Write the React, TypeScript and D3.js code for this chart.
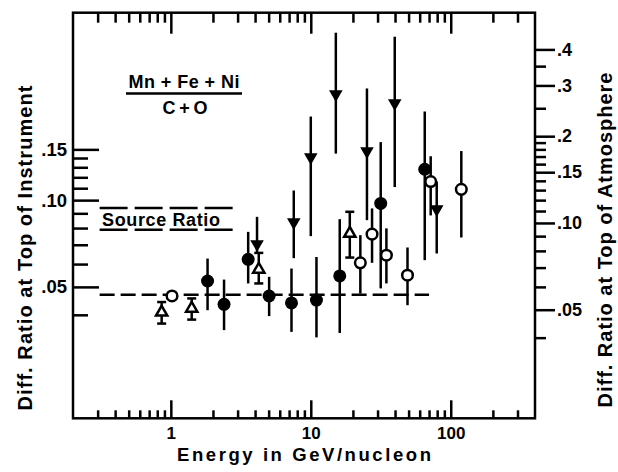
import React, { useEffect, useRef } from "react";
import * as d3 from "d3";

// energies (GeV/nucleon) and ratios
const filledE = [1.83, 2.4, 3.57, 5.04, 7.28, 10.98, 16.1, 31.6, 65.2];
const filledV = [0.0524, 0.0435, 0.0623, 0.0465, 0.044, 0.045, 0.0546, 0.0974, 0.128];
const filledLo = [0.0415, 0.0354, 0.0514, 0.0396, 0.0349, 0.0334, 0.0346, 0.0494, 0.0619];
const filledHi = [0.0627, 0.053, 0.0776, 0.0542, 0.0579, 0.0635, 0.0859, 0.159, 0.203];

const openE = [1.02, 22.6, 27.4, 34.7, 49.1, 71.9, 119];
const openV = [0.0465, 0.0606, 0.0762, 0.0644, 0.0549, 0.116, 0.109];
const openLo = [null, 0.0474, 0.0606, 0.0514, 0.0432, 0.0885, 0.0742];
const openHi = [null, 0.0756, 0.0936, 0.0798, 0.0685, 0.142, 0.148];

const triE = [0.86, 1.41, 4.25, 19.0];
const triV = [0.0408, 0.0421, 0.0575, 0.0766];
const triLo = [0.0373, 0.0385, 0.0514, 0.0632];
const triHi = [0.0443, 0.0456, 0.0656, 0.0911];

const downE = [4.13, 7.56, 10.0, 15.1, 25.2, 39.8, 79.4];
const downV = [0.0704, 0.0839, 0.141, 0.233, 0.148, 0.217, 0.0931];
const downLo = [0.066, 0.0629, 0.075, 0.145, 0.0852, 0.111, 0.0653];
const downHi = [0.0875, 0.108, 0.195, 0.381, 0.244, 0.369, 0.116];

// bracket joining the open circle and the down triangle near 75 GeV
const bracketE = [71.9, 79.4];
const bracketV = 0.116;

// source ratio band and the low energy level
const sourceE = [0.31, 3.0];
const sourceBand = [0.079, 0.094];
const levelE = [0.31, 70];
const levelV = 0.047;

// ticks
const xMajor = [1, 10, 100];
const xMinor = [0.3, 0.4, 0.5, 0.6, 0.7, 0.8, 0.9, 2, 3, 4, 5, 6, 7, 8, 9, 20, 30, 40, 50, 60, 70, 80, 90, 200, 300];
const leftMajor = [0.05, 0.1, 0.15];
const leftLabels = [".05", ".10", ".15"];
const leftMinor = [0.04, 0.06, 0.07, 0.08, 0.09, 0.11, 0.12, 0.13, 0.14];
const rightMajor = [0.05, 0.1, 0.15, 0.2, 0.3, 0.4];
const rightLabels = [".05", ".10", ".15", ".2", ".3", ".4"];
const rightMinor = [0.04, 0.06, 0.07, 0.08, 0.09, 0.11, 0.12, 0.13, 0.14, 0.16, 0.17, 0.18, 0.19, 0.25, 0.35];
const atmosFactor = 1.2;

const FONT = "'Liberation Sans', Arial, sans-serif";

const App = () => {
  const ref = useRef(null);
  const width = 618;
  const height = 472;
  const box = { left: 73, right: 535, top: 12.7, bottom: 418.3 };

  useEffect(() => {
    drawGraph();
  }, []);

  const drawGraph = () => {
    const svg = d3.select(ref.current);
    svg.selectAll("*").remove();

    const x = d3.scaleLog().domain([0.2, 400]).range([box.left, box.right]);
    const y = d3.scaleLog().domain([0.0175, 0.447]).range([box.bottom, box.top]);
    const yR = d3.scaleLog()
      .domain([0.0175 * atmosFactor, 0.447 * atmosFactor])
      .range([box.bottom, box.top]);

    const blank = () => "";
    const styleAxis = (size) => (g) => {
      g.select(".domain").remove();
      g.selectAll("line").attr("stroke", "#000").attr("stroke-width", 2.5);
      g.selectAll("text")
        .attr("fill", "#000")
        .attr("font-family", FONT)
        .attr("font-weight", 700)
        .attr("font-size", size);
    };

    // bottom axis, ticks point inward
    svg.append("g")
      .attr("transform", `translate(0,${box.bottom})`)
      .call(d3.axisTop(x).tickValues(xMinor).tickSize(8).tickFormat(blank))
      .call(styleAxis(17));
    svg.append("g")
      .attr("transform", `translate(0,${box.bottom})`)
      .call(d3.axisBottom(x).tickValues(xMajor).tickSizeInner(-18).tickSizeOuter(0)
        .tickPadding(9).tickFormat(d3.format("d")))
      .call(styleAxis(17));

    // top axis
    svg.append("g")
      .attr("transform", `translate(0,${box.top})`)
      .call(d3.axisBottom(x).tickValues(xMinor).tickSize(10).tickFormat(blank))
      .call(styleAxis(17));
    svg.append("g")
      .attr("transform", `translate(0,${box.top})`)
      .call(d3.axisBottom(x).tickValues(xMajor).tickSize(21).tickFormat(blank))
      .call(styleAxis(17));

    // left axis (top of instrument), inward ticks
    svg.append("g")
      .attr("transform", `translate(${box.left},0)`)
      .call(d3.axisRight(y).tickValues(leftMinor).tickSize(15).tickFormat(blank))
      .call(styleAxis(18.5));
    svg.append("g")
      .attr("transform", `translate(${box.left},0)`)
      .call(d3.axisLeft(y).tickValues(leftMajor).tickSizeInner(-26).tickSizeOuter(0)
        .tickPadding(6).tickFormat((d, i) => leftLabels[i]))
      .call(styleAxis(18.5));

    // right axis (top of atmosphere), outward ticks
    svg.append("g")
      .attr("transform", `translate(${box.right},0)`)
      .call(d3.axisRight(yR).tickValues(rightMinor).tickSize(11).tickFormat(blank))
      .call(styleAxis(18));
    svg.append("g")
      .attr("transform", `translate(${box.right},0)`)
      .call(d3.axisRight(yR).tickValues(rightMajor).tickSize(20).tickPadding(2)
        .tickFormat((d, i) => rightLabels[i]))
      .call(styleAxis(18));

    // frame
    svg.append("rect")
      .attr("x", box.left).attr("y", box.top)
      .attr("width", box.right - box.left).attr("height", box.bottom - box.top)
      .attr("fill", "none").attr("stroke", "#000").attr("stroke-width", 2.5);

    // dashed reference lines
    sourceBand.forEach(v => {
      svg.append("line")
        .attr("x1", x(sourceE[0])).attr("x2", x(sourceE[1]))
        .attr("y1", y(v)).attr("y2", y(v))
        .attr("stroke", "#000").attr("stroke-width", 2.5)
        .attr("stroke-dasharray", "28 7");
    });
    svg.append("line")
      .attr("x1", x(levelE[0])).attr("x2", x(levelE[1]))
      .attr("y1", y(levelV)).attr("y2", y(levelV))
      .attr("stroke", "#000").attr("stroke-width", 2.5)
      .attr("stroke-dasharray", "15 6");

    const bar = (e, lo, hi) => {
      svg.append("line")
        .attr("x1", x(e)).attr("x2", x(e))
        .attr("y1", y(lo)).attr("y2", y(hi))
        .attr("stroke", "#000").attr("stroke-width", 2.5);
    };

    // error bars
    filledE.forEach((e, i) => bar(e, filledLo[i], filledHi[i]));
    openE.forEach((e, i) => { if (openLo[i] != null) bar(e, openLo[i], openHi[i]); });
    downE.forEach((e, i) => bar(e, downLo[i], downHi[i]));
    triE.forEach((e, i) => {
      bar(e, triLo[i], triHi[i]);
      [triLo[i], triHi[i]].forEach(v => {
        svg.append("line")
          .attr("x1", x(e) - 4.5).attr("x2", x(e) + 4.5)
          .attr("y1", y(v)).attr("y2", y(v))
          .attr("stroke", "#000").attr("stroke-width", 2.5);
      });
    });
    svg.append("line")
      .attr("x1", x(bracketE[0])).attr("x2", x(bracketE[1]))
      .attr("y1", y(bracketV)).attr("y2", y(bracketV))
      .attr("stroke", "#000").attr("stroke-width", 2.5);

    // markers
    filledE.forEach((e, i) => {
      svg.append("circle")
        .attr("cx", x(e)).attr("cy", y(filledV[i])).attr("r", 6.5)
        .attr("fill", "#000");
    });
    openE.forEach((e, i) => {
      svg.append("circle")
        .attr("cx", x(e)).attr("cy", y(openV[i])).attr("r", 5.3)
        .attr("fill", "#fff").attr("stroke", "#000").attr("stroke-width", 2.5);
    });
    const up = d3.symbol().type(d3.symbolTriangle).size(55);
    triE.forEach((e, i) => {
      svg.append("path")
        .attr("d", up())
        .attr("transform", `translate(${x(e)},${y(triV[i])})`)
        .attr("fill", "#fff").attr("stroke", "#000").attr("stroke-width", 2.5);
    });
    const down = d3.symbol().type(d3.symbolTriangle).size(80);
    downE.forEach((e, i) => {
      svg.append("path")
        .attr("d", down())
        .attr("transform", `translate(${x(e)},${y(downV[i])}) rotate(180)`)
        .attr("fill", "#000");
    });

    const label = (txt, tx, ty, size, anchor = "middle") =>
      svg.append("text")
        .attr("x", tx).attr("y", ty)
        .attr("text-anchor", anchor)
        .attr("font-family", FONT).attr("font-weight", 700)
        .attr("font-size", size).attr("fill", "#000")
        .text(txt);

    // fraction annotation
    label("Mn + Fe + Ni", 184, 88, 18).attr("textLength", 111);
    svg.append("line")
      .attr("x1", 126).attr("x2", 242).attr("y1", 93.5).attr("y2", 93.5)
      .attr("stroke", "#000").attr("stroke-width", 2.5);
    label("C + O", 185, 114, 18).attr("textLength", 45);
    label("Source Ratio", 102, 226, 18, "start").attr("textLength", 118);

    // axis titles
    label("Energy in GeV/nucleon", 304, 461, 18.5).attr("textLength", 254);
    svg.append("text")
      .attr("transform", "translate(31.5,248) rotate(-90)")
      .attr("text-anchor", "middle")
      .attr("font-family", FONT).attr("font-weight", 700).attr("font-size", 20)
      .attr("textLength", 325)
      .text("Diff. Ratio at Top of Instrument");
    svg.append("text")
      .attr("transform", "translate(612,240) rotate(-90)")
      .attr("text-anchor", "middle")
      .attr("font-family", FONT).attr("font-weight", 700).attr("font-size", 20)
      .attr("textLength", 335)
      .text("Diff. Ratio at Top of Atmosphere");
  };

  return (
    <svg
      ref={ref}
      width={width}
      height={height}
      style={{ position: "absolute", left: 0, top: 0, background: "#fff" }}
    />
  );
};

export default App;
